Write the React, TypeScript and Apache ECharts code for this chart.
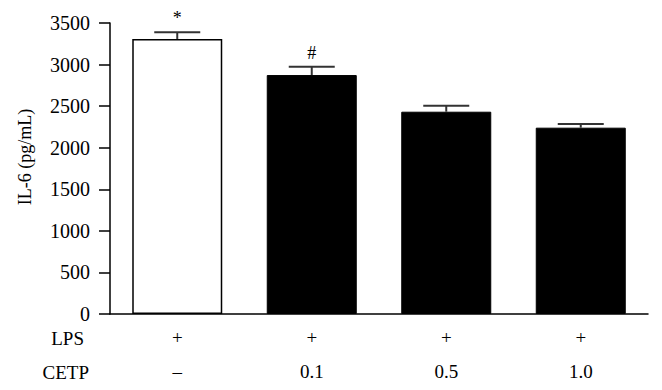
import React, { useEffect, useRef } from "react";
import * as echarts from "echarts";

const lpsLabels = ["+", "+", "+", "+"];
const cetpLabels = ["–", "0.1", "0.5", "1.0"];
const il6Values = [3308, 2874, 2433, 2241];
const il6Errors = [81, 100, 72, 44];
const sigMarks = ["*", "#", "", ""];
const yTicks = { min: 0, max: 3500, interval: 500 };
const yTitle = "IL-6 (pg/mL)";
const rowTitles = ["LPS", "CETP"];

const FONT = "Liberation Serif";

export default function App() {
  const ref = useRef<HTMLDivElement>(null);

  useEffect(() => {
    if (!ref.current) return;
    const chart = echarts.init(ref.current, undefined, { renderer: "svg" });
    const categories = cetpLabels.map((c, i) => `${lpsLabels[i]}|${c}`);

    chart.setOption({
      animation: false,
      backgroundColor: "#ffffff",
      grid: { left: 110, top: 23, width: 538, height: 291, containLabel: false },
      xAxis: {
        type: "category",
        data: categories,
        axisLine: { show: true, lineStyle: { color: "#000", width: 1.5 } },
        axisTick: { show: false },
        splitLine: { show: false },
        axisLabel: {
          margin: 6,
          interval: 0,
          formatter: (v: string) => {
            const [a, b] = v.split("|");
            return `{a|${a}}\n{b|${b}}`;
          },
          rich: {
            a: { fontFamily: FONT, fontSize: 19, color: "#000", lineHeight: 34 },
            b: { fontFamily: FONT, fontSize: 19, color: "#000", lineHeight: 34 },
          },
        },
      },
      yAxis: {
        type: "value",
        min: yTicks.min,
        max: yTicks.max,
        interval: yTicks.interval,
        axisLine: { show: true, lineStyle: { color: "#000", width: 1.5 } },
        axisTick: { show: true, inside: false, length: 11, lineStyle: { color: "#000", width: 1.5 } },
        splitLine: { show: false },
        axisLabel: {
          margin: 20,
          fontFamily: FONT,
          fontSize: 20,
          color: "#000",
          formatter: (v: number) => String(v),
        },
      },
      graphic: [
        {
          type: "text",
          x: 25,
          y: 157,
          rotation: Math.PI / 2,
          style: {
            text: yTitle,
            fontFamily: FONT,
            fontSize: 18,
            fill: "#000",
            align: "center",
            verticalAlign: "middle",
          },
        },
        {
          type: "text",
          x: 84,
          y: 338,
          style: {
            text: rowTitles[0],
            fontFamily: FONT,
            fontSize: 19,
            fill: "#000",
            align: "right",
            verticalAlign: "middle",
          },
        },
        {
          type: "text",
          x: 89,
          y: 372,
          style: {
            text: rowTitles[1],
            fontFamily: FONT,
            fontSize: 19,
            fill: "#000",
            align: "right",
            verticalAlign: "middle",
          },
        },
        {
          type: "rect",
          z: 100,
          shape: { x: 0, y: 381, width: 662, height: 9 },
          style: { fill: "#fff" },
        },
      ],
      series: [
        {
          type: "bar",
          barWidth: 90,
          data: il6Values.map((v, i) => ({
            value: v,
            itemStyle:
              i === 0
                ? { color: "#fff", borderColor: "#000", borderWidth: 1.5 }
                : { color: "#000", borderColor: "#000", borderWidth: 1 },
          })),
        },
        {
          type: "custom",
          data: il6Values.map((v, i) => [i, v, il6Errors[i]]),
          z: 5,
          renderItem: (params: any, api: any) => {
            const idx = api.value(0);
            const val = api.value(1);
            const err = api.value(2);
            const base = api.coord([idx, val]);
            const top = api.coord([idx, val + err]);
            const half = 23;
            const style = { stroke: "#333", lineWidth: 2 };
            const children: any[] = [
              { type: "line", shape: { x1: base[0], y1: base[1], x2: top[0], y2: top[1] }, style },
              { type: "line", shape: { x1: top[0] - half, y1: top[1], x2: top[0] + half, y2: top[1] }, style },
            ];
            const mark = sigMarks[params.dataIndex];
            if (mark) {
              children.push({
                type: "text",
                x: top[0],
                y: top[1] - 5,
                style: {
                  text: mark,
                  fontFamily: FONT,
                  fontSize: 18,
                  fill: "#000",
                  align: "center",
                  verticalAlign: "bottom",
                },
              });
            }
            return { type: "group", children };
          },
        },
      ],
    });

    return () => chart.dispose();
  }, []);

  return (
    <div
      ref={ref}
      style={{ position: "fixed", left: 0, top: 0, width: 662, height: 390, background: "#fff" }}
    />
  );
}
